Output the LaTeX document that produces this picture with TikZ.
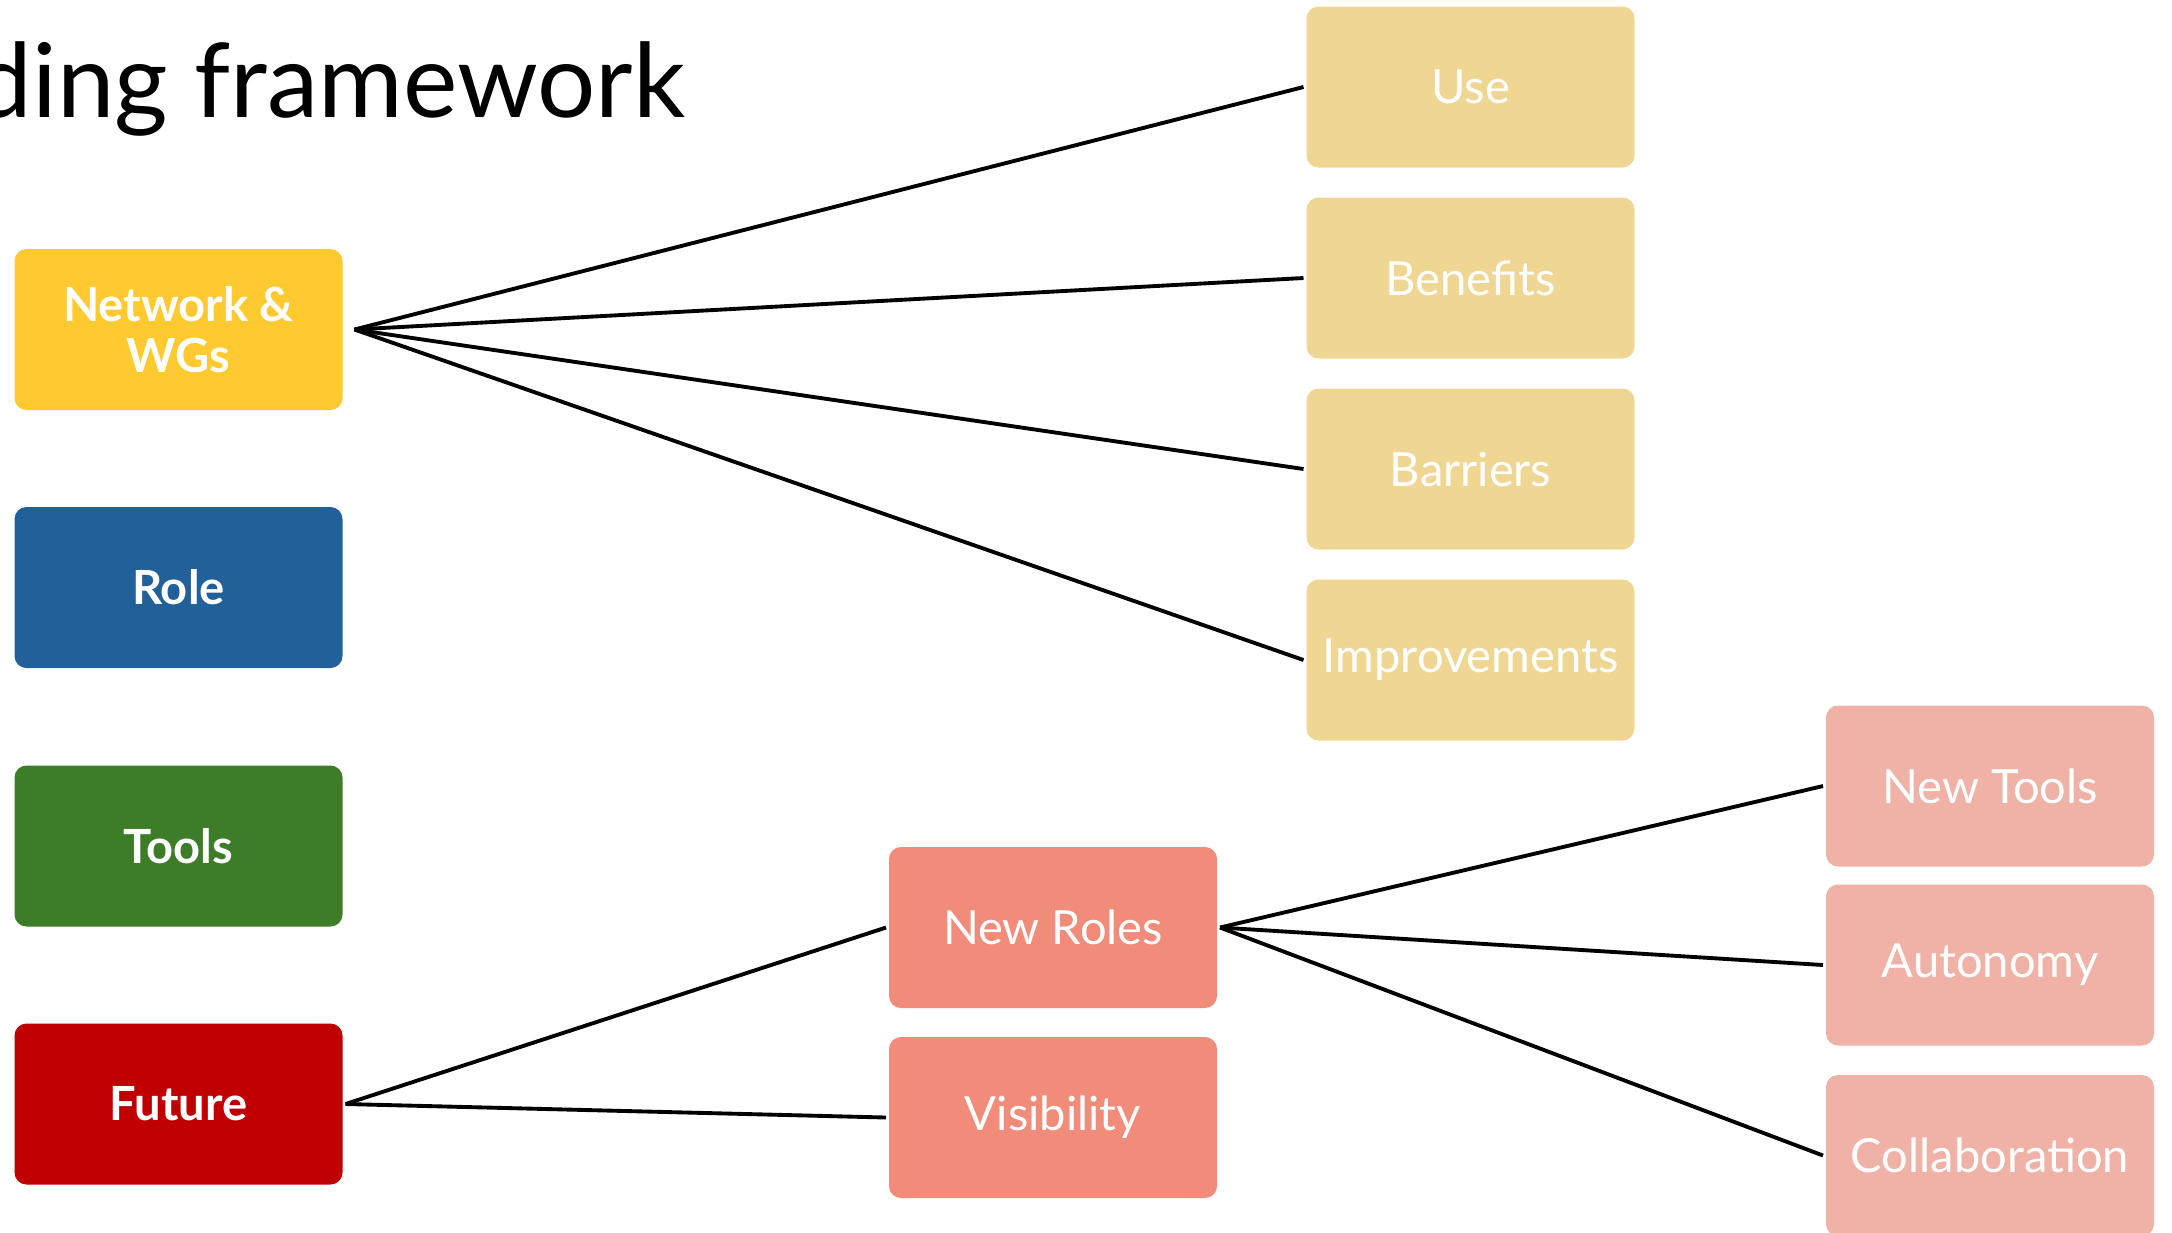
\documentclass[tikz,border=0pt]{standalone}
\usepackage{fontspec}
\setmainfont{Lato}
\usepackage{tikz}
\usetikzlibrary{arrows,shapes,positioning,calc}
\usepackage{xcolor}

\definecolor{netyellow}{RGB}{255,202,48}
\definecolor{roleblue}{RGB}{34,96,154}
\definecolor{toolgreen}{RGB}{61,125,39}
\definecolor{futurered}{RGB}{192,0,0}
\definecolor{sandbox}{RGB}{239,215,147}
\definecolor{salmonbox}{RGB}{241,140,122}
\definecolor{pinkbox}{RGB}{240,178,166}

\tikzset{
    codebox/.style={rounded corners=0.12cm, minimum width=3.28cm, minimum height=1.61cm,
        inner sep=0pt, text=white, align=center, outer sep=0.03cm,
        font=\fontsize{13.4}{14.6}\selectfont},
    topic/.style={codebox, font=\fontsize{13.4}{14.6}\selectfont\bfseries},
    link/.style={line width=1.1pt, black}
}

\begin{document}
\begin{tikzpicture}
    \useasboundingbox (0,0) rectangle (21.72,-12.32);
    \clip (0,0) rectangle (21.72,-12.32);

    % Title
    \node[anchor=base east, inner sep=0pt, font=\fontsize{29.3}{32}\selectfont] (title) at (6.86,-1.17) {ding framework};

    % Main topics
    \node[topic, fill=netyellow, outer xsep=0.12cm] (net) at (1.785,-3.295) {Network \&\\WGs};
    \node[topic, fill=roleblue] (role) at (1.785,-5.875) {Role};
    \node[topic, fill=toolgreen] (tools) at (1.785,-8.46) {Tools};
    \node[topic, fill=futurered] (future) at (1.785,-11.04) {Future};

    % Network sub-codes
    \node[codebox, fill=sandbox] (use) at (14.705,-0.87) {Use};
    \node[codebox, fill=sandbox] (benefits) at (14.705,-2.78) {Benefits};
    \node[codebox, fill=sandbox] (barriers) at (14.705,-4.69) {Barriers};
    \node[codebox, fill=sandbox] (improve) at (14.705,-6.60) {Improvements};

    % Future sub-codes
    \node[codebox, fill=salmonbox] (newroles) at (10.53,-9.275) {New Roles};
    \node[codebox, fill=salmonbox] (visibility) at (10.53,-11.175) {Visibility};
    \node[codebox, fill=pinkbox] (newtools) at (19.90,-7.86) {New Tools};
    \node[codebox, fill=pinkbox] (autonomy) at (19.90,-9.65) {Autonomy};
    \node[codebox, fill=pinkbox] (collab) at (19.90,-11.555) {Collaboration};

    % Connectors
    \foreach \target in {use,benefits,barriers,improve} {
        \draw[link] (net.east) -- (\target.west);
    }
    \foreach \target in {newroles,visibility} {
        \draw[link] (future.east) -- (\target.west);
    }
    \foreach \target in {newtools,autonomy,collab} {
        \draw[link] (newroles.east) -- (\target.west);
    }
\end{tikzpicture}
\end{document}
